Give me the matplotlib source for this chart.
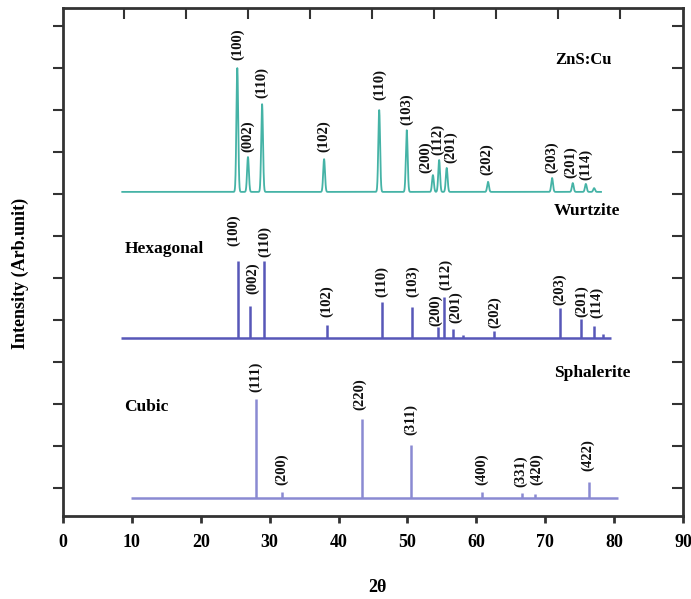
#!/usr/bin/env python3
"""XRD patterns of ZnS:Cu compared with hexagonal (wurtzite) and cubic (sphalerite) references."""

import numpy as np
import matplotlib
matplotlib.use('Agg')
import matplotlib.pyplot as plt

# --- ZnS:Cu measured pattern (peak position, height) ---
zns_base = 7.05
zns_range = (8.6, 78.1)
zns_pos = [25.3, 26.85, 28.9, 37.9, 45.9, 49.9, 53.7, 54.6, 55.7, 61.7, 71.0, 74.0, 75.9, 77.1]
zns_top = [10.0, 7.88, 9.14, 7.83, 9.0, 8.52, 7.45, 7.81, 7.62, 7.29, 7.38, 7.26, 7.24, 7.14]
zns_hkl = ['(100)', '(002)', '(110)', '(102)', '(110)', '(103)', '(200)', '(112)', '(201)',
           '(202)', '(203)', '(201)', '(114)', None]
zns_lab_x = [25.3, 26.85, 28.9, 37.9, 45.9, 49.9, 52.6, 54.4, 56.3, 61.5, 71.0, 73.7, 75.9, None]
zns_lab_y = [10.2, 8.0, 9.29, 8.0, 9.24, 8.64, 7.5, 7.93, 7.74, 7.45, 7.5, 7.38, 7.33, None]

# --- Hexagonal (wurtzite) reference sticks ---
hex_base = 3.57
hex_range = (8.4, 79.5)
hex_pos = [25.4, 27.1, 29.2, 38.3, 46.3, 50.7, 54.4, 55.3, 56.6, 58.1, 62.6, 72.1, 75.2, 77.1, 78.4]
hex_top = [5.4, 4.33, 5.4, 3.88, 4.43, 4.31, 3.83, 4.55, 3.79, 3.64, 3.74, 4.29, 4.02, 3.86, 3.66]
hex_hkl = ['(100)', '(002)', '(110)', '(102)', '(110)', '(103)', '(200)', '(112)', '(201)', None,
           '(202)', '(203)', '(201)', '(114)', None]
hex_lab_x = [24.7, 27.5, 29.3, 38.3, 46.3, 50.7, 54.1, 55.6, 57.0, None, 62.6, 72.1, 75.3, 77.4, None]
hex_lab_y = [5.76, 4.62, 5.5, 4.07, 4.55, 4.55, 3.86, 4.71, 3.93, None, 3.81, 4.36, 4.07, 4.05, None]

# --- Cubic (sphalerite) reference sticks ---
cub_base = -0.24
cub_range = (9.8, 80.6)
cub_pos = [28.0, 31.8, 43.4, 50.5, 60.8, 66.6, 68.5, 76.3]
cub_top = [2.12, -0.1, 1.64, 1.02, -0.1, -0.12, -0.14, 0.14]
cub_hkl = ['(111)', '(200)', '(220)', '(311)', '(400)', '(331)', '(420)', '(422)']
cub_lab_x = [28.0, 31.8, 43.1, 50.5, 60.8, 66.5, 68.7, 76.2]
cub_lab_y = [2.29, 0.07, 1.86, 1.26, 0.07, 0.02, 0.07, 0.4]

x_ticks = [0, 10, 20, 30, 40, 50, 60, 70, 80, 90]

plt.rcParams['font.family'] = ['Liberation Serif', 'DejaVu Serif']
plt.rcParams['font.weight'] = 'bold'

fig = plt.figure(figsize=(6.91, 5.99), dpi=100)
ax = fig.add_axes([0.0912, 0.1386, 0.8972, 0.848])

c_zns = '#45b3a6'
c_hex = '#5757b8'
c_cub = '#8a8ad2'

# measured pattern: narrow peaks on a flat baseline
xg = np.linspace(zns_range[0], zns_range[1], 4000)
yg = np.full_like(xg, zns_base)
for p, t in zip(zns_pos, zns_top):
    yg += (t - zns_base) * np.exp(-0.5 * ((xg - p) / 0.13) ** 2)
ax.plot(xg, yg, color=c_zns, lw=1.3)


def sticks(pos, top, base, xr, color):
    ax.plot(list(xr), [base, base], color=color, lw=1.8, solid_capstyle='butt')
    ax.vlines(pos, base, top, color=color, lw=1.8)


sticks(hex_pos, hex_top, hex_base, hex_range, c_hex)
sticks(cub_pos, cub_top, cub_base, cub_range, c_cub)


def hkl_labels(labels, lx, ly):
    for lab, x, y in zip(labels, lx, ly):
        if lab is None:
            continue
        ax.text(x, y, lab, rotation=90, ha='center', va='bottom',
                fontsize=10.5, fontweight='bold', color='#111111')


hkl_labels(zns_hkl, zns_lab_x, zns_lab_y)
hkl_labels(hex_hkl, hex_lab_x, hex_lab_y)
hkl_labels(cub_hkl, cub_lab_x, cub_lab_y)

# phase names
ax.text(71.5, 10.2, 'ZnS:Cu', fontsize=12, fontweight='bold', ha='left', va='center')
ax.text(71.3, 6.59, 'Wurtzite', fontsize=12.5, fontweight='bold', ha='left', va='center')
ax.text(8.9, 5.69, 'Hexagonal', fontsize=12.5, fontweight='bold', ha='left', va='center')
ax.text(71.3, 2.74, 'Sphalerite', fontsize=12.5, fontweight='bold', ha='left', va='center')
ax.text(8.9, 1.93, 'Cubic', fontsize=12.5, fontweight='bold', ha='left', va='center')

ax.set_xlim(0, 90)
ax.set_ylim(-0.67, 11.43)
ax.set_xticks(x_ticks)
ax.set_xticklabels([str(t) for t in x_ticks], fontsize=13, fontweight='bold')
ax.set_yticks(np.arange(0, 12))
ax.set_yticklabels([])
ax.tick_params(axis='x', direction='out', length=5, width=2, color='#333333', pad=8)
ax.tick_params(axis='y', left=True, right=False, direction='out', length=7, width=1.5,
               color='#333333')
for s in ax.spines.values():
    s.set_linewidth(2)
    s.set_color('#333333')

# right ticks point inward
axr = ax.secondary_yaxis('right')
axr.set_yticks(np.arange(0, 12))
axr.set_yticklabels([])
axr.tick_params(direction='in', length=8, width=1.5, color='#333333')
axr.spines['right'].set_visible(False)

# top ticks (different spacing, inward)
axt = ax.secondary_xaxis('top')
axt.set_xticks(np.arange(8.9, 82, 9.0))
axt.set_xticklabels([])
axt.tick_params(direction='in', length=8, width=1.5, color='#333333')
axt.spines['top'].set_visible(False)

# axis titles placed in figure coordinates
fig.text(377 / 691, 1 - 588 / 599, '2θ', fontsize=13, fontweight='bold',
         ha='center', va='center')
fig.text(20 / 691, 1 - 273 / 599, 'Intensity (Arb.unit)', fontsize=13, fontweight='bold',
         rotation=90, ha='center', va='center')

fig.savefig('out.png', dpi=100)
